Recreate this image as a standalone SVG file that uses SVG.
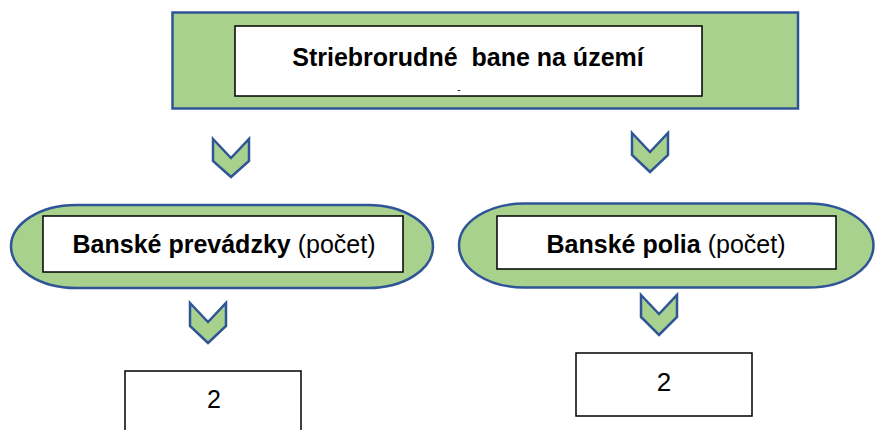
<svg xmlns="http://www.w3.org/2000/svg" width="875" height="430" viewBox="0 0 875 430">
  <style>
    .green { fill: #A9D18E; stroke: #2F5597; stroke-width: 2.5; }
    .box { fill: #FFFFFF; stroke: #000000; stroke-width: 1.5; }
    .chev { fill: #A9D18E; stroke: #2F5597; stroke-width: 2.5; stroke-linejoin: miter; }
    .t { font-family: "Liberation Sans", Arial, sans-serif; font-size: 25px; fill: #000000; text-anchor: middle; }
    .b { font-weight: bold; }
  </style>
  <rect x="0" y="0" width="875" height="430" fill="#FFFFFF"/>
  <g id="node-top">
    <rect class="green" x="172.5" y="12.5" width="625.5" height="96"/>
    <rect class="box" x="235" y="26" width="467" height="70"/>
    <text class="t b" x="468" y="66" style="white-space: pre" xml:space="preserve">Striebrorudné  bane na území</text>
    <text class="t" x="459" y="93" style="font-size: 10px">-</text>
  </g>
  <g id="node-prevadzky">
    <rect class="green" x="11" y="205" width="422" height="83" rx="65" ry="41.5"/>
    <rect class="box" x="43" y="216" width="360" height="56"/>
    <text class="t" x="224" y="253"><tspan class="b">Banské prevádzky</tspan> (počet)</text>
  </g>
  <g id="node-polia">
    <rect class="green" x="459" y="203.5" width="414.5" height="84" rx="65" ry="42"/>
    <rect class="box" x="497" y="216" width="339" height="53"/>
    <text class="t" x="666" y="253"><tspan class="b">Banské polia</tspan> (počet)</text>
  </g>
  <g id="node-prevadzky-count">
    <rect class="box" x="125" y="371" width="176" height="70"/>
    <text class="t" x="214" y="408" style="font-size: 25px">2</text>
  </g>
  <g id="node-polia-count">
    <rect class="box" x="576" y="353" width="176" height="63"/>
    <text class="t" x="664" y="391" style="font-size: 26px">2</text>
  </g>
  <g id="connectors">
    <polygon class="chev" points="213,139 231,158 249,139 249,161 231,177 213,161"/>
    <polygon class="chev" points="632,133 650,152 668,133 668,155 650,172 632,155"/>
    <polygon class="chev" points="190,303 208,322 226,303 226,326 208,343 190,326"/>
    <polygon class="chev" points="641,295 659,314 677,295 677,317 659,335 641,317"/>
  </g>
</svg>
